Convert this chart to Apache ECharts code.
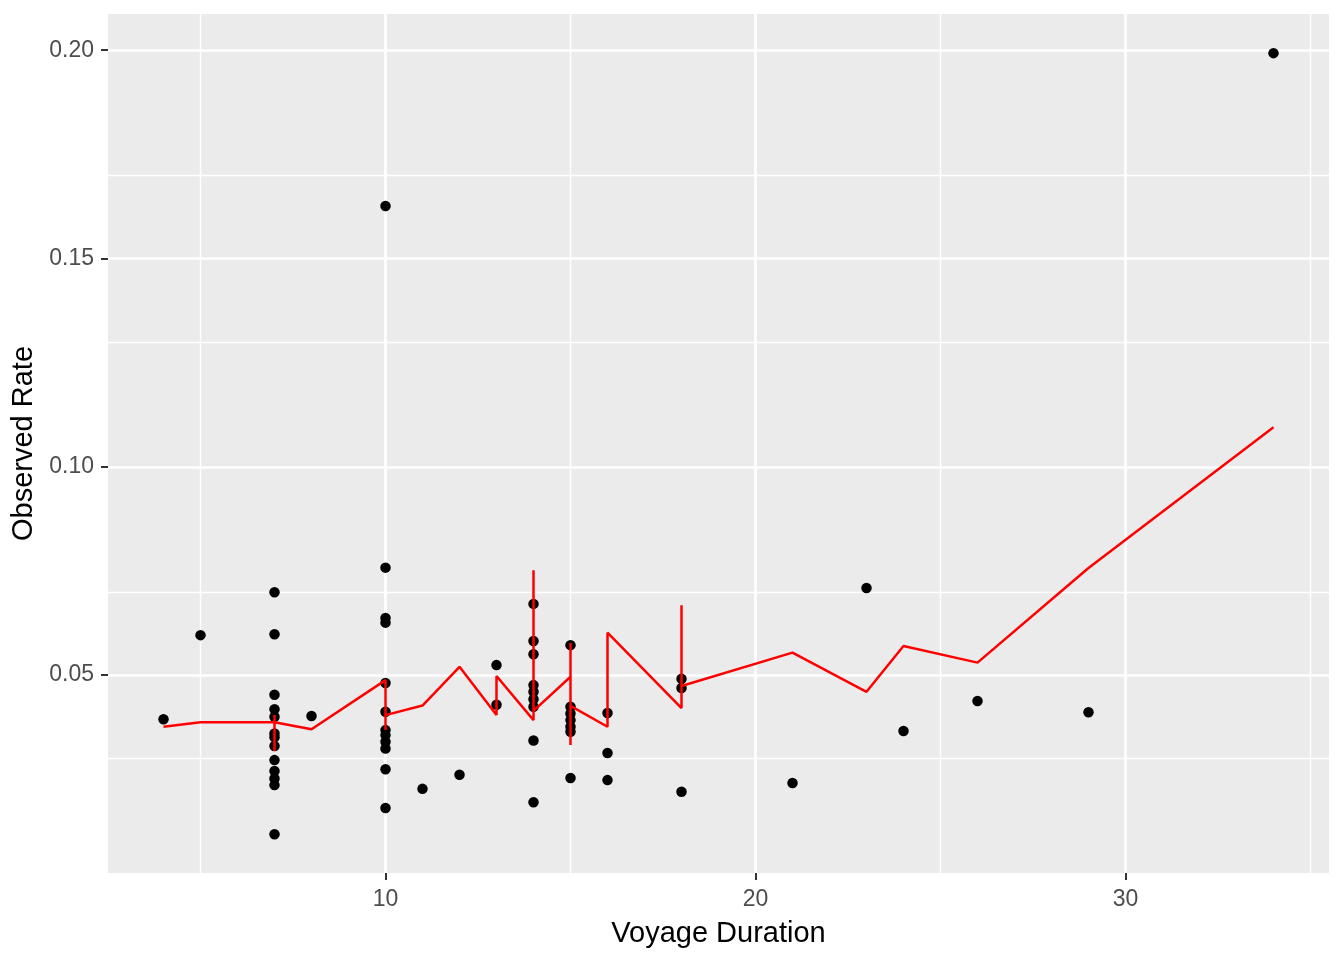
<!DOCTYPE html>
<html>
<head>
<meta charset="utf-8">
<title>Observed Rate vs Voyage Duration</title>
<script src="https://cdn.jsdelivr.net/npm/echarts@6/dist/echarts.min.js"></script>
<style>
  html, body { margin: 0; padding: 0; background: #fff; }
  #chart { width: 1344px; height: 960px; }
</style>
</head>
<body>
<div id="chart"></div>
<script>
// observed points (duration, rate)
var voyageDuration = [
    4, 5,
    7, 7, 7, 7, 7, 7, 7, 7, 7, 7, 7, 7, 7,
    8,
    10, 10, 10, 10, 10, 10, 10, 10, 10, 10, 10, 10,
    11, 12,
    13, 13,
    14, 14, 14, 14, 14, 14, 14, 14, 14,
    15, 15, 15, 15, 15, 15, 15,
    16, 16, 16,
    18, 18, 18,
    21, 23, 24, 26, 29, 34
];
var observedRate = [
    0.0394, 0.0596,
    0.0699, 0.0598, 0.0453, 0.0418, 0.0400, 0.0360, 0.0351, 0.0330, 0.0296, 0.0270, 0.0252, 0.0236, 0.0118,
    0.0402,
    0.1626, 0.0758, 0.0637, 0.0626, 0.0481, 0.0412, 0.0368, 0.0356, 0.0340, 0.0324, 0.0274, 0.0181,
    0.0227, 0.0261,
    0.0524, 0.0429,
    0.0671, 0.0582, 0.0550, 0.0476, 0.0460, 0.0442, 0.0424, 0.0343, 0.0195,
    0.0572, 0.0424, 0.0408, 0.0392, 0.0376, 0.0364, 0.0253,
    0.0409, 0.0313, 0.0248,
    0.0491, 0.0469, 0.0220,
    0.0241, 0.0709, 0.0366, 0.0438, 0.0411, 0.1993
];

// fitted values, in plotting order (ties give the vertical strokes)
var fitDuration = [4, 5, 7, 7, 7, 7, 8, 10, 10, 10, 11, 12, 13, 13, 14, 14, 14, 15, 15, 15, 15, 16, 16, 18, 18, 18, 21, 23, 24, 26, 29, 34];
var fitRate = [0.0376, 0.0387, 0.0387, 0.0404, 0.0318, 0.0387, 0.0370, 0.0488, 0.0368, 0.0404, 0.0427, 0.0520,
               0.0404, 0.0498, 0.0392, 0.0752, 0.0414, 0.0496, 0.0577, 0.0332, 0.0426, 0.0376, 0.0602,
               0.0421, 0.0668, 0.0474, 0.0554, 0.0460, 0.0570, 0.0530, 0.0757, 0.1095];

var xTicks = [10, 20, 30];
var xMinor = [5, 15, 25, 35];
var yTicks = [0.05, 0.10, 0.15, 0.20];
var yMinor = [0.025, 0.075, 0.125, 0.175];

var points = voyageDuration.map(function (d, i) { return [d, observedRate[i]]; });
var fitted = fitDuration.map(function (d, i) { return [d, fitRate[i]]; });

var gridLines = [];
xMinor.forEach(function (v) { gridLines.push({ xAxis: v, lineStyle: { width: 1.4 } }); });
yMinor.forEach(function (v) { gridLines.push({ yAxis: v, lineStyle: { width: 1.4 } }); });
xTicks.forEach(function (v) { gridLines.push({ xAxis: v, lineStyle: { width: 2.7 } }); });
yTicks.forEach(function (v) { gridLines.push({ yAxis: v, lineStyle: { width: 2.7 } }); });

var font = '"Liberation Sans", Arial, sans-serif';
var myChart = echarts.init(document.getElementById('chart'));
var option = {
    animation: false,
    textStyle: { fontFamily: font },
    grid: {
        left: 108, right: 15, top: 14, bottom: 87,
        show: true, backgroundColor: '#EBEBEB', borderWidth: 0
    },
    xAxis: {
        type: 'value',
        min: 2.5,
        max: 35.5,
        name: 'Voyage Duration',
        nameLocation: 'middle',
        nameGap: 46,
        nameTextStyle: { color: '#000', fontSize: 29, fontFamily: font },
        axisLine: { show: false },
        axisTick: { show: true, length: 7, customValues: xTicks, lineStyle: { color: '#333333', width: 2 } },
        axisLabel: { customValues: xTicks, color: '#4D4D4D', fontSize: 23, margin: 15, fontFamily: font },
        splitLine: { show: false }
    },
    yAxis: {
        type: 'value',
        min: 0.0025,
        max: 0.2087,
        name: 'Observed Rate',
        nameLocation: 'middle',
        nameGap: 57,
        nameTextStyle: { color: '#000', fontSize: 29, fontFamily: font },
        axisLine: { show: false },
        axisTick: { show: true, length: 7, customValues: yTicks, lineStyle: { color: '#333333', width: 2 } },
        axisLabel: {
            customValues: yTicks, color: '#4D4D4D', fontSize: 23, margin: 14, fontFamily: font,
            padding: [4, 0, 0, 0],
            formatter: function (v) { return v.toFixed(2); }
        },
        splitLine: { show: false }
    },
    series: [
        {
            name: 'grid',
            type: 'scatter',
            data: [],
            z: 1,
            silent: true,
            markLine: {
                z: 1,
                silent: true,
                symbol: ['none', 'none'],
                label: { show: false },
                lineStyle: { color: '#FFFFFF', type: 'solid' },
                data: gridLines
            }
        },
        {
            name: 'Observed',
            type: 'scatter',
            data: points,
            symbol: 'circle',
            symbolSize: 10.5,
            itemStyle: { color: '#000000', opacity: 1 },
            z: 3
        },
        {
            name: 'Fitted',
            type: 'line',
            data: fitted,
            showSymbol: false,
            symbol: 'none',
            lineStyle: { color: '#FF0000', width: 2.5 },
            z: 4
        }
    ]
};
myChart.setOption(option);
window.addEventListener('resize', function () {
    myChart.resize();
});
</script>
</body>
</html>
